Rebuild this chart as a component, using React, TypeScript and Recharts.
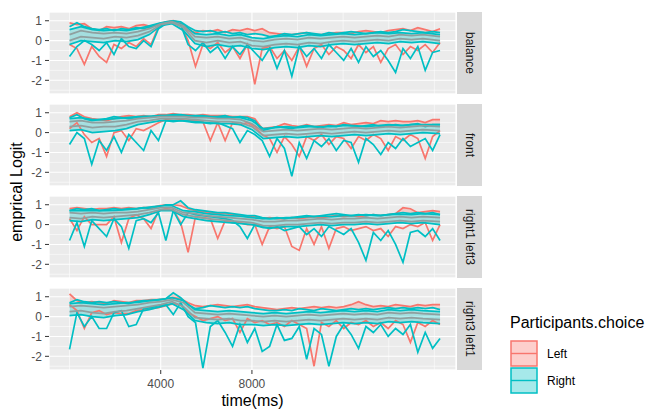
import { ComposedChart, Area, Line, XAxis, YAxis, CartesianGrid } from "recharts";

// sample times (ms)
const TIME_FINE = [
  0, 325, 650, 975, 1300, 1625, 1950, 2275, 2600, 2925, 3250, 3575, 3900, 4225, 4550, 4875, 5200,
  5525, 5850, 6175, 6500, 6825, 7150, 7475, 7800, 8125, 8450, 8775, 9100, 9425, 9750, 10075, 10400,
  10725, 11050, 11375, 11700, 12025, 12350, 12675, 13000, 13325, 13650, 13975, 14300, 14625, 14950,
  15275, 15600, 15925, 16250,
];
const TIME_COARSE = [
  0, 500, 1000, 1500, 2000, 2500, 3000, 3500, 4000, 4500, 5000, 5500, 6000, 6500, 7000, 7500, 8000,
  8500, 9000, 9500, 10000, 10500, 11000, 11500, 12000, 12500, 13000, 13500, 14000, 14500, 15000,
  15500, 16250,
];

const X_MAJOR = [4000, 8000];
const X_MINOR = [0, 2000, 6000, 10000, 12000, 14000, 16000];
const Y_MAJOR = [-2, -1, 0, 1];
const Y_MINOR = [-2.5, -1.5, -0.5, 0.5];
const X_DOMAIN = [-900, 16950];
const Y_DOMAIN = [-2.69, 1.44];

const FACET_NAMES = ["balance", "front", "right1 left3", "right3 left1"];
const CHOICES = ["Left", "Right"];

// balance
const B_L_HI = [0.9,0.8,0.85,0.6,0.5,0.7,0.65,0.7,0.6,0.75, 0.8,0.7,0.85,0.95,1.0,0.9,0.5,0.4,0.5,0.45, 0.55,0.4,0.55,0.5,0.6,0.5,0.6,0.4,0.35,0.3, 0.3,0.35,0.4,0.3,0.3,0.35,0.4,0.4,0.35,0.45, 0.5,0.45,0.4,0.5,0.55,0.6,0.5,0.65,0.55,0.45, 0.6];
const B_L_LO = [-0.2,-0.4,-1.2,-0.3,-0.8,-1.1,-0.2,-0.4,-0.1,-0.3, 0.1,-0.2,0.7,0.85,0.9,0.8,0.0,-1.3,-0.2,-0.4, -0.1,-0.6,-0.3,-0.9,-0.2,-2.2,-0.4,-0.3,-0.9,-0.5, -1.0,-0.3,-1.3,-0.4,-0.2,-0.7,-0.3,-0.5,-0.9,-0.2, -0.6,-0.3,-1.1,-0.4,-0.2,-0.7,-0.3,-0.5,-0.2,-0.6, -0.1];
const B_R_HI = [0.7,0.9,0.7,0.6,0.55,0.6,0.5,0.6,0.55,0.65, 0.6,0.7,0.8,0.95,1.0,0.95,0.7,0.5,0.45,0.5, 0.4,0.45,0.35,0.4,0.3,0.35,0.3,0.2,0.25,0.35, 0.3,0.35,0.4,0.35,0.3,0.4,0.35,0.4,0.45,0.4, 0.35,0.4,0.45,0.4,0.45,0.55,0.5,0.45,0.4,0.45, 0.4];
const B_R_LO = [-0.8,-0.3,0.0,-0.2,-0.5,-0.1,-0.7,0.1,-0.3,-0.4, 0.0,-0.3,0.6,0.85,0.9,0.8,-0.2,-0.5,-0.1,-0.6, -0.3,-0.9,-0.3,-0.7,-0.2,-0.6,-1.0,-0.4,-1.4,-0.5, -1.8,-0.3,-0.8,-0.4,-0.9,-0.2,-0.6,-1.0,-0.4,-1.1, -0.3,-0.8,-0.5,-1.0,-1.6,-0.4,-0.9,-0.3,-1.5,-0.6, -0.5];
const B_G1 = [0.3,0.5,0.4,0.35,0.4,0.35,0.45,0.6,0.85,0.95, 0.75,0.2,0.15,0.2,0.1,0.15,0.0,-0.05,0.05,0.1, 0.05,0.15,0.1,0.15,0.2,0.15,0.2,0.25,0.2,0.3, 0.25,0.3,0.2];
const B_G2 = [0.0,0.2,0.15,0.1,0.2,0.15,0.25,0.45,0.8,0.9, 0.65,0.0,-0.1,0.0,-0.1,-0.05,-0.25,-0.3,-0.2,-0.15, -0.2,-0.1,-0.15,-0.05,0.0,-0.05,0.0,0.05,0.0,0.1, 0.05,0.1,0.0];
const B_C1 = [0.55,0.7,0.55,0.5,0.55,0.5,0.6,0.75,0.9,0.97, 0.8,0.35,0.3,0.35,0.25,0.3,0.15,0.1,0.2,0.25, 0.2,0.3,0.25,0.3,0.35,0.3,0.35,0.4,0.35,0.4, 0.35,0.4,0.3];
const B_C2 = [-0.2,0.0,-0.05,-0.1,0.0,-0.05,0.05,0.3,0.75,0.85, 0.5,-0.15,-0.3,-0.2,-0.3,-0.25,-0.4,-0.45,-0.35,-0.3, -0.35,-0.25,-0.3,-0.2,-0.15,-0.2,-0.15,-0.1,-0.15,-0.05, -0.1,-0.05,-0.15];

// front
const F_L_HI = [0.8,1.0,0.8,0.7,0.65,0.6,0.7,0.8,0.85,0.8, 0.85,0.8,0.9,0.9,0.95,0.9,0.9,0.85,0.9,0.85, 0.85,0.85,0.8,0.8,0.8,0.7,0.2,0.25,0.3,0.45, 0.35,0.3,0.4,0.3,0.35,0.4,0.35,0.5,0.4,0.45, 0.5,0.45,0.6,0.55,0.6,0.55,0.55,0.6,0.5,0.65, 0.65];
const F_L_LO = [0.2,0.5,-0.1,-0.5,-0.3,-1.2,0.0,0.1,-0.4,0.2, 0.1,0.3,0.5,0.65,0.6,0.65,0.6,0.6,0.55,-0.4, 0.5,-0.4,0.5,0.4,0.5,0.3,-0.1,-0.3,-1.0,-0.2, -0.6,-1.2,-0.2,-0.4,-0.1,-0.6,-0.2,-0.3,-0.8,-0.2, -0.4,-0.1,-0.3,-0.9,-0.2,-0.4,-0.1,-0.3,-1.3,-0.2, 0.1];
const F_R_HI = [0.75,0.9,0.7,0.6,0.65,0.7,0.8,0.75,0.7,0.75, 0.8,0.8,0.85,0.85,0.9,0.9,0.85,0.85,0.85,0.8, 0.8,0.85,0.75,0.8,0.75,0.6,0.1,0.2,0.3,0.25, 0.2,0.3,0.35,0.3,0.25,0.35,0.3,0.4,0.35,0.3, 0.35,0.4,0.3,0.35,0.4,0.35,0.4,0.45,0.3,0.4, 0.4];
const F_R_LO = [-0.6,0.0,-0.3,-1.6,-0.4,-0.9,-0.2,-1.0,-0.1,-0.5, -0.9,0.1,-0.4,0.6,0.55,0.6,0.55,0.5,0.5,0.45, 0.5,0.35,0.2,-0.5,0.1,-0.1,-0.4,-1.2,-0.3,-0.8, -2.2,-0.5,-1.3,-0.4,-0.7,-0.3,-0.9,-0.4,-0.5,-1.5, -0.3,-0.6,-1.1,-0.5,-0.8,-0.3,-0.7,-0.5,-0.3,-0.9, -0.1];
const F_G1 = [0.55,0.6,0.5,0.5,0.55,0.6,0.7,0.75,0.8,0.8, 0.8,0.75,0.75,0.7,0.7,0.65,0.45,0.05,0.1,0.15, 0.1,0.15,0.2,0.15,0.2,0.25,0.2,0.25,0.3,0.25, 0.3,0.35,0.3];
const F_G2 = [0.3,0.35,0.25,0.3,0.3,0.4,0.55,0.6,0.7,0.7, 0.7,0.65,0.6,0.55,0.55,0.5,0.3,-0.15,-0.1,-0.05, -0.1,-0.05,0.0,-0.05,0.0,0.05,0.0,0.05,0.1,0.05, 0.1,0.15,0.1];
const F_C1 = [0.7,0.75,0.65,0.65,0.7,0.75,0.8,0.82,0.85,0.85, 0.85,0.82,0.8,0.78,0.78,0.75,0.6,0.2,0.25,0.3, 0.25,0.3,0.3,0.3,0.35,0.35,0.3,0.35,0.4,0.35, 0.4,0.4,0.4];
const F_C2 = [0.1,0.15,0.0,0.05,0.1,0.2,0.4,0.5,0.6,0.6, 0.6,0.55,0.5,0.45,0.45,0.4,0.15,-0.3,-0.25,-0.2, -0.25,-0.2,-0.15,-0.2,-0.15,-0.1,-0.15,-0.1,-0.05,-0.1, -0.05,0.0,-0.05];

// right1 left3
const R_L_HI = [0.8,0.85,0.8,0.75,0.8,0.8,0.85,0.8,0.85,0.8, 0.85,0.85,0.95,1.0,1.0,0.95,0.8,0.7,0.65,0.6, 0.55,0.55,0.5,0.45,0.4,0.4,0.3,0.35,0.3,0.3, 0.35,0.3,0.35,0.4,0.35,0.4,0.45,0.4,0.45,0.4, 0.45,0.5,0.45,0.5,0.55,0.85,0.8,0.6,0.65,0.7, 0.65];
const R_L_LO = [0.3,-0.3,0.4,0.0,0.0,0.0,0.4,-0.9,0.3,0.5, 0.3,-0.2,0.7,0.8,0.75,0.1,-1.4,0.4,0.35,0.3, -0.7,0.2,0.1,0.1,0.0,0.0,-1.0,-0.1,-0.2,-0.1, -1.1,-1.3,-0.2,-1.0,-0.1,-1.2,-0.2,-0.1,-0.3,-0.2, -0.1,-0.3,-0.2,-0.6,-0.1,-0.2,0.0,-0.1,0.1,-0.8, 0.0];
const R_R_HI = [0.7,0.8,0.75,0.8,0.7,0.75,0.8,0.75,0.8,0.8, 0.85,0.8,0.9,1.0,1.0,1.2,0.85,0.75,0.7,0.65, 0.6,0.6,0.55,0.5,0.45,0.45,0.35,0.3,0.35,0.3, 0.35,0.4,0.45,0.4,0.45,0.5,0.55,0.5,0.45,0.5, 0.45,0.5,0.45,0.5,0.55,0.6,0.55,0.6,0.55,0.6, 0.5];
const R_R_LO = [-0.8,0.1,-1.1,0.2,-0.2,-0.6,0.3,-0.1,-1.2,0.2, 0.3,0.1,0.6,-0.8,0.7,0.0,0.6,0.5,0.45,0.4, 0.35,0.3,0.2,-0.1,-0.7,0.0,-0.1,-0.2,-0.1,-0.3, -0.2,-0.1,-0.5,-0.2,-0.6,-0.1,-0.3,-0.5,-0.2,-0.9, -1.8,-0.4,-0.8,-0.3,-1.0,-1.9,-0.4,-0.3,-0.6,-0.2, -0.8];
const R_G1 = [0.6,0.55,0.6,0.55,0.6,0.6,0.65,0.75,0.85,0.85, 0.6,0.55,0.45,0.4,0.35,0.3,0.25,0.15,0.15,0.2, 0.2,0.25,0.3,0.25,0.3,0.3,0.35,0.3,0.35,0.4, 0.35,0.4,0.35];
const R_G2 = [0.35,0.3,0.4,0.35,0.4,0.45,0.5,0.6,0.75,0.75, 0.5,0.4,0.3,0.25,0.2,0.15,0.1,-0.05,-0.05,0.0, 0.0,0.05,0.1,0.05,0.1,0.1,0.15,0.1,0.15,0.2, 0.15,0.2,0.15];
const R_C1 = [0.7,0.7,0.72,0.7,0.72,0.75,0.8,0.88,0.95,0.95, 0.7,0.65,0.55,0.5,0.45,0.42,0.35,0.3,0.3,0.35, 0.35,0.4,0.42,0.4,0.45,0.45,0.5,0.45,0.5,0.52, 0.5,0.55,0.5];
const R_C2 = [0.2,0.15,0.25,0.2,0.25,0.3,0.35,0.5,0.7,0.7, 0.4,0.3,0.2,0.15,0.1,0.05,0.0,-0.15,-0.15,-0.1, -0.1,-0.05,0.0,-0.05,0.0,0.0,0.05,0.0,0.05,0.1, 0.05,0.1,0.0];

// right3 left1
const L_L_HI = [1.15,0.8,0.7,0.75,0.7,0.65,0.8,0.75,0.7,0.8, 0.8,0.85,0.85,0.9,0.95,0.9,0.7,0.55,0.5,0.55, 0.6,0.55,0.5,0.55,0.6,0.5,0.45,0.4,0.35,0.4, 0.45,0.4,0.45,0.5,0.45,0.5,0.45,0.5,0.6,0.75, 0.6,0.5,0.55,0.5,0.6,0.55,0.5,0.6,0.55,0.6, 0.6];
const L_L_LO = [0.6,0.3,-0.6,0.2,0.3,0.1,0.2,0.15,0.15,0.3, 0.35,0.4,0.45,0.55,0.65,0.6,0.2,0.0,-0.2,-0.1, 0.0,-0.2,-0.1,-0.8,-0.1,-0.3,-0.2,-0.4,-0.3,-0.5, -0.2,-0.4,-0.6,-2.5,-0.3,-0.5,-0.2,-0.6,-0.3,-0.4, -0.2,-0.5,-0.3,-0.6,-0.2,-0.4,-1.3,-0.3,-0.5,-0.2, -0.4];
const L_R_HI = [0.7,0.85,0.75,0.7,0.75,0.7,0.75,0.7,0.65,0.75, 0.8,0.8,0.85,0.9,1.2,0.95,0.6,0.4,0.45,0.55, 0.5,0.45,0.5,0.45,0.5,0.4,0.35,0.3,0.3,0.35, 0.3,0.4,0.35,0.3,0.4,0.35,0.3,0.35,0.4,0.35, 0.4,0.35,0.4,0.45,0.4,0.45,0.4,0.45,0.4,0.45, 0.35];
const L_R_LO = [-1.65,0.2,-0.5,0.0,-0.6,-0.6,0.2,0.3,-0.5,-0.4, 0.4,0.45,0.55,0.6,0.1,0.7,0.0,-0.3,-2.6,-0.5, -0.2,-0.8,-1.5,-0.4,-1.3,-0.6,-1.75,-1.5,-0.4,-1.2, -1.1,-0.5,-2.15,-0.6,-0.9,-2.5,-1.0,-0.4,-0.9,-1.6, -0.5,-0.8,-0.4,-1.0,-0.6,-0.9,-0.4,-1.8,-0.8,-1.6, -1.1];
const L_G1 = [0.5,0.55,0.5,0.45,0.5,0.55,0.6,0.7,0.75,0.85, 0.7,0.2,0.15,0.1,0.15,0.1,0.05,0.0,0.05,0.0, 0.05,0.1,0.05,0.1,0.15,0.1,0.15,0.1,0.2,0.15, 0.2,0.15,0.1];
const L_G2 = [0.25,0.3,0.2,0.15,0.25,0.3,0.4,0.5,0.6,0.75, 0.5,-0.05,-0.1,-0.15,-0.1,-0.2,-0.2,-0.25,-0.2,-0.25, -0.2,-0.15,-0.2,-0.15,-0.1,-0.15,-0.1,-0.15,-0.05,-0.1, -0.05,-0.1,-0.15];
const L_C1 = [0.65,0.7,0.65,0.6,0.65,0.7,0.72,0.8,0.85,0.95, 0.8,0.35,0.3,0.25,0.3,0.25,0.2,0.15,0.2,0.15, 0.2,0.25,0.2,0.25,0.3,0.25,0.3,0.25,0.35,0.3, 0.35,0.3,0.25];
const L_C2 = [0.05,0.1,0.0,-0.05,0.05,0.1,0.25,0.35,0.5,0.65, 0.35,-0.2,-0.3,-0.35,-0.3,-0.4,-0.4,-0.45,-0.4,-0.45, -0.4,-0.35,-0.4,-0.35,-0.3,-0.35,-0.3,-0.35,-0.25,-0.3, -0.25,-0.3,-0.35];

const RED = "#F8766D";
const TEAL = "#00BFC4";
const GREY = "#8FA0A0";
const FONT = '"Liberation Sans", Arial, Helvetica, sans-serif';
const LW = 1.7;

const PANEL_TOP = [12, 104, 196, 288];
const PANEL_H = 82;

const facets = [
  { lHi: B_L_HI, lLo: B_L_LO, rHi: B_R_HI, rLo: B_R_LO, g1: B_G1, g2: B_G2, c1: B_C1, c2: B_C2 },
  { lHi: F_L_HI, lLo: F_L_LO, rHi: F_R_HI, rLo: F_R_LO, g1: F_G1, g2: F_G2, c1: F_C1, c2: F_C2 },
  { lHi: R_L_HI, lLo: R_L_LO, rHi: R_R_HI, rLo: R_R_LO, g1: R_G1, g2: R_G2, c1: R_C1, c2: R_C2 },
  { lHi: L_L_HI, lLo: L_L_LO, rHi: L_R_HI, rLo: L_R_LO, g1: L_G1, g2: L_G2, c1: L_C1, c2: L_C2 },
];

function Facet({ f, top, last }: any) {
  const rows = TIME_FINE.map((t, i) => ({
    t,
    lHi: f.lHi[i],
    lLo: f.lLo[i],
    rHi: f.rHi[i],
    rLo: f.rLo[i],
    redBand: [Math.min(f.lHi[i], f.rHi[i]), Math.max(f.lHi[i], f.rHi[i])],
  }));
  const core = TIME_COARSE.map((t, i) => ({
    t,
    g1: f.g1[i],
    g2: f.g2[i],
    c1: f.c1[i],
    c2: f.c2[i],
    band: [f.c2[i], f.c1[i]],
  }));
  const h = last ? 5 + PANEL_H + 30 : PANEL_H + 10;
  const tickStyle = { fontSize: 12, fill: "#4D4D4D", fontFamily: FONT };
  return (
    <div style={{ position: "absolute", left: 0, top: top - 5 }}>
      <ComposedChart width={460} height={h} data={rows} margin={{ top: 5, right: 4, bottom: last ? 0 : 5, left: 0 }}>
        <XAxis xAxisId="minor" dataKey="t" type="number" domain={X_DOMAIN} ticks={X_MINOR} interval={0} hide allowDataOverflow />
        <YAxis yAxisId="minor" type="number" domain={Y_DOMAIN} ticks={Y_MINOR} interval={0} hide allowDataOverflow />
        <CartesianGrid xAxisId="minor" yAxisId="minor" stroke="#fff" strokeWidth={0.55} fill="#EBEBEB" fillOpacity={1} />
        <CartesianGrid stroke="#fff" strokeWidth={1.1} />
        <XAxis
          dataKey="t"
          type="number"
          domain={X_DOMAIN}
          ticks={X_MAJOR}
          interval={0}
          allowDataOverflow
          hide={!last}
          height={30}
          axisLine={false}
          tickLine={{ stroke: "#333" }}
          tickSize={4}
          tickMargin={5}
          tick={tickStyle}
        />
        <YAxis
          type="number"
          domain={Y_DOMAIN}
          ticks={Y_MAJOR}
          interval={0}
          allowDataOverflow
          width={49}
          axisLine={false}
          tickLine={{ stroke: "#333" }}
          tickSize={4}
          tickMargin={3}
          tick={tickStyle}
        />
        <Area dataKey="redBand" stroke="none" fill={RED} fillOpacity={0.28} isAnimationActive={false} />
        <Area data={core} dataKey="band" stroke="none" fill={TEAL} fillOpacity={0.3} isAnimationActive={false} />
        <Line dataKey="lLo" stroke={RED} strokeWidth={LW} dot={false} isAnimationActive={false} />
        <Line dataKey="lHi" stroke={RED} strokeWidth={LW} dot={false} isAnimationActive={false} />
        <Line dataKey="rLo" stroke={TEAL} strokeWidth={LW} dot={false} isAnimationActive={false} />
        <Line dataKey="rHi" stroke={TEAL} strokeWidth={LW} dot={false} isAnimationActive={false} />
        <Line data={core} dataKey="c1" stroke={TEAL} strokeWidth={LW} dot={false} isAnimationActive={false} />
        <Line data={core} dataKey="c2" stroke={TEAL} strokeWidth={LW} dot={false} isAnimationActive={false} />
        <Line data={core} dataKey="g1" stroke={GREY} strokeWidth={LW} dot={false} isAnimationActive={false} />
        <Line data={core} dataKey="g2" stroke={GREY} strokeWidth={LW} dot={false} isAnimationActive={false} />
      </ComposedChart>
    </div>
  );
}

export default function App() {
  return (
    <div style={{ position: "absolute", left: 0, top: 0, width: 657, height: 411, background: "#fff", fontFamily: FONT }}>
      {facets.map((f, k) => (
        <Facet key={k} f={f} top={PANEL_TOP[k]} last={k === facets.length - 1} />
      ))}
      <svg width={657} height={411} style={{ position: "absolute", left: 0, top: 0, pointerEvents: "none" }}>
        {FACET_NAMES.map((name, k) => (
          <g key={name}>
            <rect x={457} y={PANEL_TOP[k]} width={25} height={PANEL_H} fill="#D9D9D9" />
            <text
              transform={`translate(465.5, ${PANEL_TOP[k] + PANEL_H / 2}) rotate(90)`}
              textAnchor="middle"
              fontSize={12}
              fill="#1A1A1A"
              fontFamily={FONT}
            >
              {name}
            </text>
          </g>
        ))}
        <text transform="translate(21.5, 192) rotate(-90)" textAnchor="middle" fontSize={16} fill="#000" fontFamily={FONT}>
          emprical Logit
        </text>
        <text x={252.5} y={406} textAnchor="middle" fontSize={16} fill="#000" fontFamily={FONT}>
          time(ms)
        </text>
        <text x={510} y={328} fontSize={16} fill="#000" fontFamily={FONT}>
          Participants.choice
        </text>
        {CHOICES.map((c, k) => {
          const col = k === 0 ? RED : TEAL;
          const y = 341 + k * 27;
          return (
            <g key={c}>
              <rect x={511} y={y} width={26} height={25} fill={col} fillOpacity={0.35} stroke={col} strokeWidth={1.5} />
              <line x1={511} x2={537} y1={y + 12.5} y2={y + 12.5} stroke={col} strokeWidth={1.4} />
              <text x={547} y={y + 17} fontSize={12} fill="#000" fontFamily={FONT}>
                {c}
              </text>
            </g>
          );
        })}
      </svg>
    </div>
  );
}
